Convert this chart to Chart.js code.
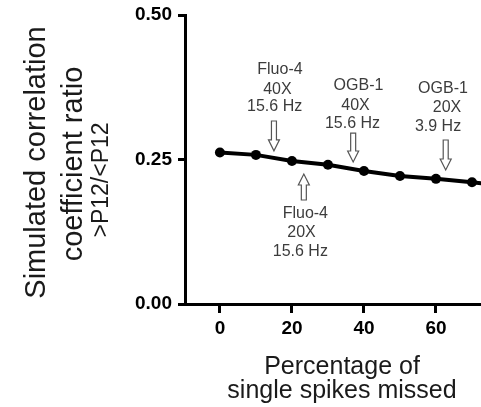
<!DOCTYPE html>
<html><head><meta charset="utf-8">
<script src="https://cdn.jsdelivr.net/npm/chart.js@4/dist/chart.umd.min.js"></script>
<style>html,body{margin:0;padding:0;background:#fff;}canvas{display:block;}</style>
</head><body>
<canvas id="c" width="481" height="407"></canvas>
<script>
// ---- data ----
const percentMissed = [0, 10, 20, 30, 40, 50, 60, 70, 80];
const corrRatio = [0.262, 0.258, 0.2475, 0.241, 0.230, 0.2215, 0.2165, 0.2105, 0.2045];
const yTickValues = [0, 0.25, 0.5];
const yTickLabels = ['0.00', '0.25', '0.50'];
const xTickValues = [0, 20, 40, 60];
const yTitleLines = ['Simulated correlation', 'coefficient ratio', '>P12/<P12'];
const xTitleLines = ['Percentage of', 'single spikes missed'];
const annotationLabels = [['Fluo-4', '40X', '15.6 Hz'], ['OGB-1', '40X', '15.6 Hz'], ['OGB-1', '20X', '3.9 Hz'], ['Fluo-4', '20X', '15.6 Hz']];
const annotationX = [15, 37, 62.7, 23.3];
const arrowTip = [0.265, 0.2457, 0.2318, 0.2249];
const arrowTail = [0.3166, 0.2958, 0.2837, 0.1799];

// ---- layout (pixels) ----
const PLOT = {left: 185, top: 15, right: 481, bottom: 304};
const annoLayout = [
  {dx: [6, 3.5, 0.7], dy: [-51, -31.7, -14.3]},
  {dx: [5.3, 2.3, -0.7], dy: [-47, -27, -9]},
  {dx: [-2.7, 1.3, -7.7], dy: [-51, -32, -13]},
  {dx: [1.5, -2.3, -3.5], dy: [14, 33, 52]}
];
const FONT = '"Liberation Sans", Arial, Helvetica, sans-serif';

function drawArrow(ctx, x, yTail, yTip) {
  const dir = Math.sign(yTip - yTail);
  const sw = 2.5, hw = 5.5, hl = 11;
  const yb = yTip - dir * hl;
  ctx.beginPath();
  ctx.moveTo(x - sw, yTail);
  ctx.lineTo(x - sw, yb);
  ctx.lineTo(x - hw, yb);
  ctx.lineTo(x, yTip);
  ctx.lineTo(x + hw, yb);
  ctx.lineTo(x + sw, yb);
  ctx.lineTo(x + sw, yTail);
  ctx.closePath();
  ctx.fillStyle = '#fff';
  ctx.fill();
  ctx.lineWidth = 1.2;
  ctx.strokeStyle = '#555';
  ctx.stroke();
}

const fixLayout = {
  id: 'fixLayout',
  afterLayout(chart) {
    const ca = chart.chartArea;
    Object.assign(ca, PLOT, {width: PLOT.right - PLOT.left, height: PLOT.bottom - PLOT.top});
    const xs = chart.scales.x, ys = chart.scales.y;
    Object.assign(xs, {left: PLOT.left, right: PLOT.right, width: PLOT.right - PLOT.left, top: PLOT.bottom, bottom: chart.height, height: chart.height - PLOT.bottom});
    Object.assign(ys, {left: 0, right: PLOT.left, width: PLOT.left, top: PLOT.top, bottom: PLOT.bottom, height: PLOT.bottom - PLOT.top});
    xs.configure();
    ys.configure();
  }
};

const overlay = {
  id: 'overlay',
  afterDraw(chart) {
    const ctx = chart.ctx;
    const xs = chart.scales.x, ys = chart.scales.y;
    ctx.save();
    annotationLabels.forEach((lines, i) => {
      const px = xs.getPixelForValue(annotationX[i]);
      const tail = ys.getPixelForValue(arrowTail[i]);
      const tip = ys.getPixelForValue(arrowTip[i]);
      drawArrow(ctx, px, tail, tip);
      ctx.fillStyle = '#3c3c3c';
      ctx.font = '16px ' + FONT;
      ctx.textAlign = 'center';
      ctx.textBaseline = 'middle';
      lines.forEach((t, j) => {
        ctx.fillText(t, px + annoLayout[i].dx[j], tail + annoLayout[i].dy[j]);
      });
    });
    ctx.fillStyle = '#1a1a1a';
    ctx.textAlign = 'center';
    ctx.textBaseline = 'alphabetic';
    const yt = [
      {x: 45, y: 162.5, size: 29},
      {x: 81.7, y: 164, size: 29},
      {x: 108, y: 180, size: 23}
    ];
    yTitleLines.forEach((t, j) => {
      ctx.save();
      ctx.translate(yt[j].x, yt[j].y);
      ctx.rotate(-Math.PI / 2);
      ctx.font = yt[j].size + 'px ' + FONT;
      ctx.fillText(t, 0, 0);
      ctx.restore();
    });
    ctx.font = '25px ' + FONT;
    const xt = [374, 398];
    xTitleLines.forEach((t, j) => ctx.fillText(t, 342, xt[j]));
    ctx.restore();
  }
};

new Chart(document.getElementById('c'), {
  type: 'line',
  data: {
    datasets: [{
      data: percentMissed.map((v, i) => ({x: v, y: corrRatio[i]})),
      borderColor: '#000',
      backgroundColor: '#000',
      borderWidth: 4,
      pointRadius: 5,
      pointBackgroundColor: '#000',
      pointBorderColor: '#000',
      pointBorderWidth: 0,
      tension: 0,
      clip: false
    }]
  },
  options: {
    responsive: false,
    animation: false,
    devicePixelRatio: 1,
    layout: {padding: {top: 15, right: 0, left: 0, bottom: 0}},
    plugins: {legend: {display: false}, tooltip: {enabled: false}, title: {display: false}},
    scales: {
      x: {
        type: 'linear',
        min: -9.7,
        max: 72.5,
        afterBuildTicks: s => { s.ticks = xTickValues.map(v => ({value: v})); },
        afterFit: s => { s.height = 103; },
        grid: {display: true, drawOnChartArea: false, drawTicks: true, tickLength: 9, tickWidth: 3, tickColor: '#000'},
        border: {display: true, width: 3, color: '#000'},
        ticks: {color: '#000', font: {family: FONT, size: 19, weight: 'bold'}, padding: 4, maxRotation: 0}
      },
      y: {
        min: 0,
        max: 0.5,
        afterBuildTicks: s => { s.ticks = yTickValues.map(v => ({value: v})); },
        afterFit: s => { s.width = 185; },
        grid: {display: true, drawOnChartArea: false, drawTicks: true, tickLength: 7, tickWidth: 3, tickColor: '#000'},
        border: {display: true, width: 3, color: '#000'},
        ticks: {
          color: '#000', font: {family: FONT, size: 19, weight: 'bold'}, padding: 6,
          callback: (v) => yTickLabels[yTickValues.indexOf(v)]
        }
      }
    }
  },
  plugins: [fixLayout, overlay]
});
</script>
</body></html>
